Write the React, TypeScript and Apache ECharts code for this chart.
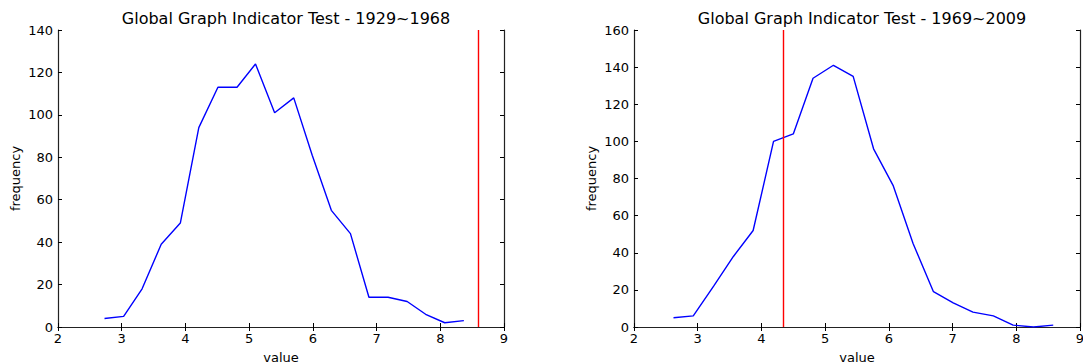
import React, { useEffect, useRef } from "react";
import * as echarts from "echarts";

const titles = ["Global Graph Indicator Test - 1929~1968", "Global Graph Indicator Test - 1969~2009"];
const xTicks = [2, 9, 1];
const yMaxes = [140, 160];

const valuesA = [2.73, 3.03, 3.32, 3.62, 3.92, 4.21, 4.51, 4.81, 5.10, 5.40, 5.70, 5.99, 6.29, 6.59, 6.88, 7.18, 7.48, 7.77, 8.07, 8.37];
const freqA = [4, 5, 18, 39, 49, 94, 113, 113, 124, 101, 108, 81, 55, 44, 14, 14, 12, 6, 2, 3];
const indicatorA = 8.6;

const valuesB = [2.62, 2.93, 3.25, 3.56, 3.87, 4.19, 4.50, 4.81, 5.13, 5.44, 5.76, 6.07, 6.38, 6.70, 7.01, 7.32, 7.64, 7.95, 8.27, 8.58];
const freqB = [5, 6, 22, 38, 52, 100, 104, 134, 141, 135, 96, 76, 45, 19, 13, 8, 6, 1, 0, 1];
const indicatorB = 4.35;

const FONT = "DejaVu Sans";

export default function App() {
  const ref = useRef<HTMLDivElement>(null);
  useEffect(() => {
    if (!ref.current) return;
    const chart = echarts.init(ref.current, undefined, { renderer: "svg" });
    const grids = [
      { left: 58, top: 30, width: 446, height: 297, outerBoundsMode: "none", containLabel: false },
      { left: 634, top: 30, width: 446, height: 297, outerBoundsMode: "none", containLabel: false },
    ];
    const axisLine = { show: true, lineStyle: { color: "#222", width: 1.2 } };
    const tick = { show: true, inside: true, length: 4, lineStyle: { color: "#000", width: 1 } };
    const xAxis: any[] = [];
    const yAxis: any[] = [];
    [0, 1].forEach((i) => {
      xAxis.push({
        type: "value", gridIndex: i, min: xTicks[0], max: xTicks[1], interval: xTicks[2],
        position: "bottom", axisLine, axisTick: tick, splitLine: { show: false },
        axisLabel: { color: "#000", fontFamily: FONT, fontSize: 13, margin: 5 },
        name: "value", nameLocation: "middle", nameGap: 24,
        nameTextStyle: { color: "#000", fontFamily: FONT, fontSize: 13 },
      });
      xAxis.push({
        type: "value", gridIndex: i, min: xTicks[0], max: xTicks[1], interval: xTicks[2],
        position: "top", axisLine, axisTick: tick, splitLine: { show: false },
        axisLabel: { show: false },
      });
      yAxis.push({
        type: "value", gridIndex: i, min: 0, max: yMaxes[i], interval: 20,
        position: "left", axisLine, axisTick: tick, splitLine: { show: false },
        axisLabel: { color: "#000", fontFamily: FONT, fontSize: 13, margin: 5 },
        name: "frequency", nameLocation: "middle", nameGap: 36, nameRotate: 90,
        nameTextStyle: { color: "#000", fontFamily: FONT, fontSize: 13 },
      });
      yAxis.push({
        type: "value", gridIndex: i, min: 0, max: yMaxes[i], interval: 20,
        position: "right", axisLine, axisTick: tick, splitLine: { show: false },
        axisLabel: { show: false },
      });
    });
    const mk = (xs: number[], ys: number[], ind: number, i: number) => ({
      type: "line",
      xAxisIndex: i * 2,
      yAxisIndex: i * 2,
      data: xs.map((x, k) => [x, ys[k]]),
      showSymbol: false,
      symbol: "none",
      lineStyle: { color: "#0000ff", width: 1.4 },
      markLine: {
        silent: true,
        symbol: "none",
        label: { show: false },
        lineStyle: { color: "#ff0000", width: 1.4, type: "solid" },
        data: [{ xAxis: ind }],
      },
    });
    chart.setOption({
      animation: false,
      backgroundColor: "#fff",
      title: [
        { text: titles[0], left: 281, top: 5, textAlign: "center", textStyle: { color: "#000", fontFamily: FONT, fontSize: 16, fontWeight: "normal" } },
        { text: titles[1], left: 857, top: 5, textAlign: "center", textStyle: { color: "#000", fontFamily: FONT, fontSize: 16, fontWeight: "normal" } },
      ],
      grid: grids,
      xAxis,
      yAxis,
      series: [mk(valuesA, freqA, indicatorA, 0), mk(valuesB, freqB, indicatorB, 1)],
    });
    return () => chart.dispose();
  }, []);
  return <div ref={ref} style={{ position: "absolute", left: 0, top: 0, width: 1083, height: 364 }} />;
}
